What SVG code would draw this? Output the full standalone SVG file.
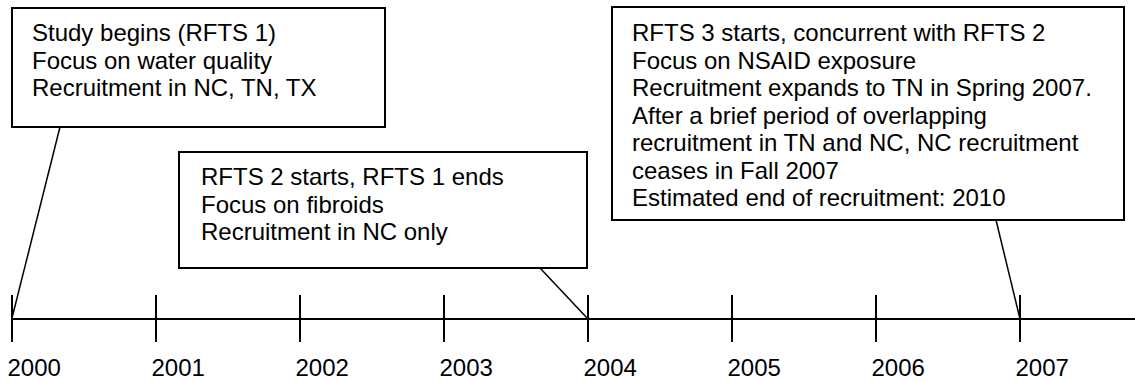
<svg xmlns="http://www.w3.org/2000/svg" width="1135" height="381" viewBox="0 0 1135 381">
<style>
.box{fill:#fff;stroke:#000;stroke-width:2}
.ln{stroke:#000;stroke-width:2;fill:none}
.cn{stroke:#000;stroke-width:1.5;fill:none}
text{font-family:"Liberation Sans",Arial,sans-serif;font-size:24px;fill:#000}
</style>
<rect width="1135" height="381" fill="#fff"/>
<g id="timeline">
<line class="ln" x1="12" y1="319" x2="1135" y2="319"/>
<line class="ln" x1="12" y1="295" x2="12" y2="342"/>
<line class="ln" x1="156" y1="295" x2="156" y2="342"/>
<line class="ln" x1="300" y1="295" x2="300" y2="342"/>
<line class="ln" x1="444" y1="295" x2="444" y2="342"/>
<line class="ln" x1="588" y1="295" x2="588" y2="342"/>
<line class="ln" x1="732" y1="295" x2="732" y2="342"/>
<line class="ln" x1="876" y1="295" x2="876" y2="342"/>
<line class="ln" x1="1020" y1="295" x2="1020" y2="342"/>
<text x="7.5" y="376">2000</text>
<text x="151.5" y="376">2001</text>
<text x="295.5" y="376">2002</text>
<text x="439.5" y="376">2003</text>
<text x="583.5" y="376">2004</text>
<text x="727.5" y="376">2005</text>
<text x="871.5" y="376">2006</text>
<text x="1015.5" y="376">2007</text>
</g>
<g id="connectors">
<line class="cn" x1="60" y1="127" x2="12" y2="318"/>
<line class="cn" x1="540" y1="268" x2="588" y2="319"/>
<line class="cn" x1="996" y1="220" x2="1020" y2="319"/>
</g>
<g id="box1">
<rect class="box" x="12" y="8" width="373" height="119"/>
<text x="32" y="41">Study begins (RFTS 1)</text>
<text x="32" y="68.5">Focus on water quality</text>
<text x="32" y="96">Recruitment in NC, TN, TX</text>
</g>
<g id="box2">
<rect class="box" x="179" y="152" width="408" height="116"/>
<text x="201" y="185">RFTS 2 starts, RFTS 1 ends</text>
<text x="201" y="212.5">Focus on fibroids</text>
<text x="201" y="240">Recruitment in NC only</text>
</g>
<g id="box3">
<rect class="box" x="612" y="7" width="512" height="213"/>
<text x="632" y="41">RFTS 3 starts, concurrent with RFTS 2</text>
<text x="632" y="68.5">Focus on NSAID exposure</text>
<text x="632" y="96">Recruitment expands to TN in Spring 2007.</text>
<text x="632" y="123.5">After a brief period of overlapping</text>
<text x="632" y="151">recruitment in TN and NC, NC recruitment</text>
<text x="632" y="178.5">ceases in Fall 2007</text>
<text x="632" y="206">Estimated end of recruitment: 2010</text>
</g>
</svg>
